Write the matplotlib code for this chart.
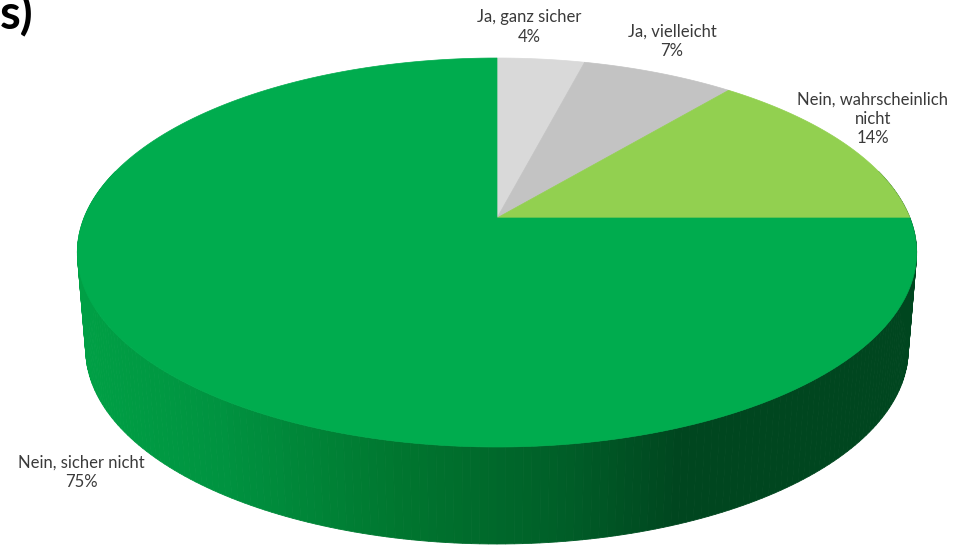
import numpy as np
import matplotlib
matplotlib.use("Agg")
import matplotlib.pyplot as plt
from matplotlib.colors import to_rgb

# data
labels = ["Ja, ganz sicher", "Ja, vielleicht", "Nein, wahrscheinlich\nnicht", "Nein, sicher nicht"]
values = [4, 7, 14, 75]
colors = ["#D9D9D9", "#C3C3C3", "#92D050", "#00AC4E"]

# label block centres (pixel coords)
label_pos = [(529, 27), (672, 41), (873, 119), (81, 472)]

# 3d pie geometry in pixel space
CX, CY = 497, 218
RX = 413
Q = -149.7
K = 0.1774
DEPTH = 97


def project(t, z=0.0, r=1.0):
    X = r * np.cos(t)
    Y = r * np.sin(t)
    w = 1 + K * Y
    sx = CX + RX * X / w * (1 - 0.02 * z)
    sy = (CY + Q * Y) / w + DEPTH * z
    return sx, sy


# colour of the side wall depending on screen x
wall_stops_x = [80, 220, 400, 560, 680, 920]
wall_stops_c = ["#00A045", "#009340", "#00762F", "#005F28", "#00461F", "#00461F"]
wall_rgb = np.array([to_rgb(c) for c in wall_stops_c])


def wall_color(x):
    return tuple(np.interp(x, wall_stops_x, wall_rgb[:, k]) for k in range(3))


fig = plt.figure(figsize=(9.56, 5.49), dpi=100)
ax = fig.add_axes([0, 0, 1, 1])
ax.set_xlim(0, 956)
ax.set_ylim(549, 0)
ax.axis("off")

# side wall (front part only)
ts = np.radians(np.arange(165, 376, 1.0))
for t1, t2 in zip(ts[:-1], ts[1:]):
    x1, y1 = project(t1)
    x2, y2 = project(t2)
    x3, y3 = project(t2, 1)
    x4, y4 = project(t1, 1)
    c = wall_color((x1 + x2) / 2)
    ax.fill([x1, x2, x3, x4], [y1, y2, y3, y4], color=c, lw=0.6, ec=c)

# top surface slices, clockwise from 12 o'clock
fracs = np.array(values) / sum(values)
start = 90.0
for frac, col in zip(fracs, colors):
    end = start - 360 * frac
    tt = np.radians(np.linspace(start, end, 200))
    xs, ys = project(tt)
    ax.fill(np.r_[CX, xs], np.r_[CY, ys], color=col, lw=0.5, ec=col)
    start = end

# data labels
for lab, val, (lx, ly) in zip(labels, values, label_pos):
    ax.text(lx, ly, f"{lab}\n{val}%", ha="center", va="center", multialignment="center",
            fontsize=12, family="Lato", color="#3A3A3A", linespacing=1.25)

# cut-off heading
ax.text(0, 29, "s)", ha="left", va="baseline", fontsize=34, fontweight="bold",
        family="Lato", color="black")

fig.savefig("out.png", dpi=100)
